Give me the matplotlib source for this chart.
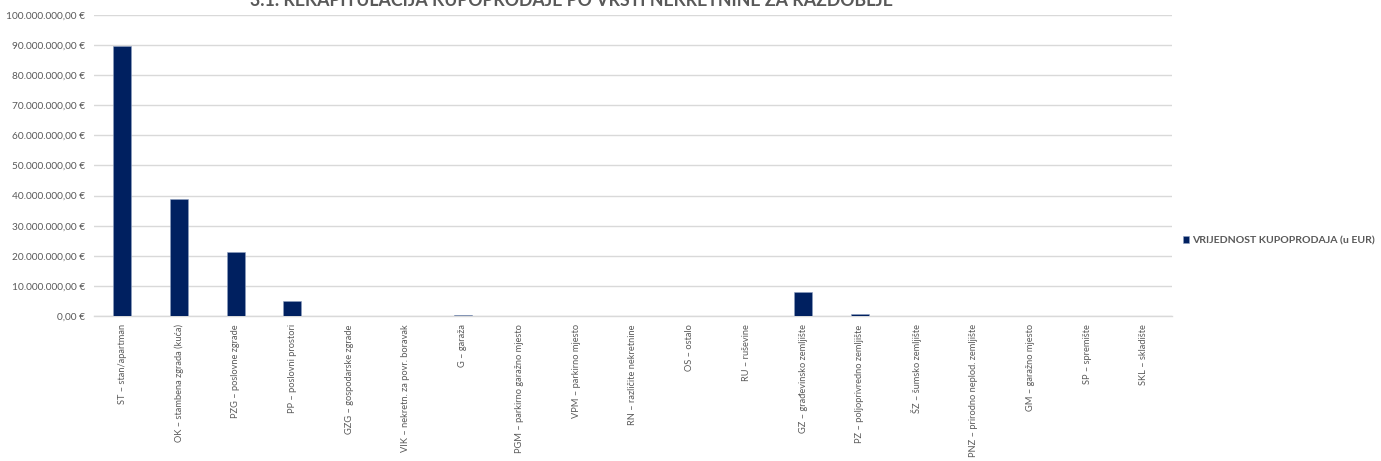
import matplotlib
matplotlib.use("Agg")
import matplotlib.pyplot as plt
from matplotlib.ticker import FuncFormatter

categories = [
    "ST – stan/apartman",
    "OK – stambena zgrada (kuća)",
    "PZG – poslovne zgrade",
    "PP – poslovni prostori",
    "GZG – gospodarske zgrade",
    "VIK – nekretn. za povr. boravak",
    "G – garaža",
    "PGM – parkirno garažno mjesto",
    "VPM – parkirno mjesto",
    "RN – različite nekretnine",
    "OS – ostalo",
    "RU – ruševine",
    "GZ – građevinsko zemljište",
    "PZ – poljoprivredno zemljište",
    "ŠZ – šumsko zemljište",
    "PNZ – prirodno neplod. zemljište",
    "GM – garažno mjesto",
    "SP – spremište",
    "SKL – skladište",
]
values = [89_700_000, 38_800_000, 21_400_000, 5_100_000, 40_000, 20_000,
          300_000, 100_000, 20_000, 0, 0, 0,
          8_000_000, 800_000, 40_000, 0, 0, 0, 0]
series_name = "VRIJEDNOST KUPOPRODAJA (u EUR)"
title = "3.1. REKAPITULACIJA KUPOPRODAJE PO VRSTI NEKRETNINE ZA RAZDOBLJE"
yticks = list(range(0, 100_000_001, 10_000_000))

plt.rcParams['font.family'] = ['Lato', 'DejaVu Sans']
grey = '#595959'

fig = plt.figure(figsize=(13.81, 4.61), dpi=100)
ax = fig.add_axes([0.0678, 0.3145, 0.781, 0.6531])

x = list(range(len(categories)))
ax.bar(x, values, width=0.317, color='#002060', edgecolor='#8fa0c0',
       linewidth=0.4, label=series_name, zorder=3)

ax.set_xlim(-0.5, len(categories) - 0.5)
ax.set_ylim(0, 100_000_000)
ax.set_yticks(yticks)

def fmt(v, pos):
    s = f"{v:,.2f}".replace(",", "X").replace(".", ",").replace("X", ".")
    return s + " €"

ax.yaxis.set_major_formatter(FuncFormatter(fmt))
ax.grid(axis='y', color='#d9d9d9', linewidth=1, zorder=0)
for sp in ['top', 'right', 'left']:
    ax.spines[sp].set_visible(False)
ax.spines['bottom'].set_color('#d9d9d9')
ax.spines['bottom'].set_linewidth(1)
ax.tick_params(axis='both', length=0, colors=grey)
ax.tick_params(axis='y', pad=6, labelsize=7.3)
ax.set_xticks(x)
ax.set_xticklabels(categories, rotation=90, va='top', ha='center')
ax.tick_params(axis='x', pad=6, labelsize=6.7)

fig.text(0.4135, 1.0, title, ha='center', va='center', fontsize=12.8,
         fontweight='bold', color=grey)

leg = ax.legend(loc='center left', bbox_to_anchor=(1.0, 0.25), frameon=False,
                handlelength=0.6, handleheight=0.6, handletextpad=0.3,
                borderaxespad=0.6, prop={'size': 7.55, 'weight': 'bold'})
for t in leg.get_texts():
    t.set_color(grey)

fig.savefig("out.png", dpi=100)
